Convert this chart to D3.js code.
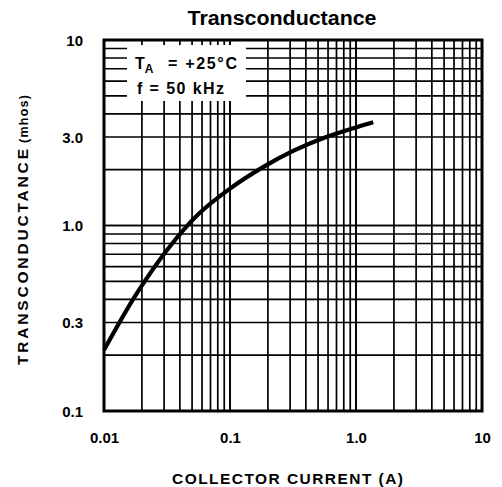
<!DOCTYPE html>
<html>
<head>
<meta charset="utf-8">
<script src="https://cdn.jsdelivr.net/npm/d3@7"></script>
<style>
  html, body { margin: 0; padding: 0; background: #fff; }
  svg { display: block; }
  .cond { font-family: "Liberation Sans", Arial, sans-serif; font-weight: bold; }
</style>
</head>
<body>
<script>
// ---- data ----
const xTickValues = [0.01, 0.1, 1, 10];
const xTickLabels = ["0.01", "0.1", "1.0", "10"];
const yTickValues = [0.1, 0.3, 1, 3, 10];
const yTickLabels = ["0.1", "0.3", "1.0", "3.0", "10"];
const collectorCurrent = [0.01, 0.018, 0.032, 0.056, 0.1, 0.18, 0.32, 0.56, 1.0, 1.37];
const transconductance = [0.213, 0.425, 0.745, 1.15, 1.58, 2.05, 2.53, 2.97, 3.38, 3.6];
const titleText = "Transconductance";
const xTitle = "COLLECTOR CURRENT (A)";
const yTitle = "TRANSCONDUCTANCE";
const yUnit = "(mhos)";
const noteLines = ["= +25°C", "f = 50 kHz"];

// ---- layout ----
const W = 502, H = 487;
const L = 104, R = 482, T = 40, B = 411;

const svg = d3.select("body").append("svg").attr("width", W).attr("height", H);

const x = d3.scaleLog().domain([0.01, 10]).range([L, R]);
const y = d3.scaleLog().domain([0.1, 10]).range([B, T]);

// minor grid values
const gridX = [], gridY = [];
[0.01, 0.1, 1].forEach(d => { for (let k = 1; k <= 10; k++) gridX.push(d * k); });
[0.1, 1].forEach(d => { for (let k = 1; k <= 10; k++) gridY.push(d * k); });

const grid = svg.append("g");
grid.selectAll("line.gx").data(gridX).join("line")
  .attr("x1", d => x(d)).attr("x2", d => x(d))
  .attr("y1", T).attr("y2", B)
  .attr("stroke", "#000").attr("stroke-width", 1.7);
grid.selectAll("line.gy").data(gridY).join("line")
  .attr("x1", L).attr("x2", R)
  .attr("y1", d => y(d)).attr("y2", d => y(d))
  .attr("stroke", "#000").attr("stroke-width", 1.7);

// note box (white background)
svg.append("rect").attr("x", 127).attr("y", 45).attr("width", 119).attr("height", 56).attr("fill", "#fff");

// frame
svg.append("rect").attr("x", L).attr("y", T).attr("width", R - L).attr("height", B - T)
  .attr("fill", "none").attr("stroke", "#000").attr("stroke-width", 3);

// curve
const line = d3.line().x(d => x(d[0])).y(d => y(d[1])).curve(d3.curveCatmullRom.alpha(0.5));
svg.append("path")
  .datum(collectorCurrent.map((c, i) => [c, transconductance[i]]))
  .attr("d", line).attr("fill", "none").attr("stroke", "#000")
  .attr("stroke-width", 4.2).attr("stroke-linecap", "butt");

// axes tick labels via d3 axes (no lines)
const xAxis = d3.axisBottom(x).tickValues(xTickValues).tickFormat((d, i) => xTickLabels[i]).tickSize(0).tickPadding(0);
const gx = svg.append("g").attr("transform", `translate(0,${B + 27})`).call(xAxis);
gx.select(".domain").remove();
gx.selectAll("text").attr("class", "cond").attr("font-size", 15).attr("fill", "#000").attr("dy", "0.35em");

const yAxis = d3.axisLeft(y).tickValues(yTickValues).tickFormat((d, i) => yTickLabels[i]).tickSize(0).tickPadding(0);
const gy = svg.append("g").attr("transform", `translate(${L - 21},0)`).call(yAxis);
gy.select(".domain").remove();
gy.selectAll("text").attr("class", "cond").attr("font-size", 15).attr("fill", "#000").attr("dy", "0.35em");

// title
svg.append("text").attr("x", 282).attr("y", 25).attr("text-anchor", "middle")
  .attr("class", "cond").attr("font-size", 20)
  .attr("textLength", 189).attr("lengthAdjust", "spacingAndGlyphs").text(titleText);

// x title
svg.append("text").attr("class", "cond").attr("x", 172).attr("y", 484)
  .attr("font-size", 15.5).attr("textLength", 231).attr("lengthAdjust", "spacing").text(xTitle);

// y title (rotated)
svg.append("text").attr("class", "cond").attr("transform", "translate(28,365) rotate(-90)")
  .attr("font-size", 15.5).attr("textLength", 216).attr("lengthAdjust", "spacing").text(yTitle);
svg.append("text").attr("class", "cond").attr("transform", "translate(28,143) rotate(-90)")
  .attr("font-size", 12.5).attr("textLength", 48).attr("lengthAdjust", "spacing").text(yUnit);

// note text
const n1 = svg.append("text").attr("class", "cond").attr("x", 135).attr("y", 69).attr("font-size", 16);
n1.append("tspan").text("T");
n1.append("tspan").attr("font-size", 12).attr("dy", 4).text("A");
svg.append("text").attr("class", "cond").attr("x", 168).attr("y", 69).attr("font-size", 16)
  .attr("textLength", 69).attr("lengthAdjust", "spacing").text(noteLines[0]);
svg.append("text").attr("class", "cond").attr("x", 137).attr("y", 94).attr("font-size", 16)
  .attr("textLength", 87).attr("lengthAdjust", "spacing").text(noteLines[1]);
</script>
</body>
</html>
